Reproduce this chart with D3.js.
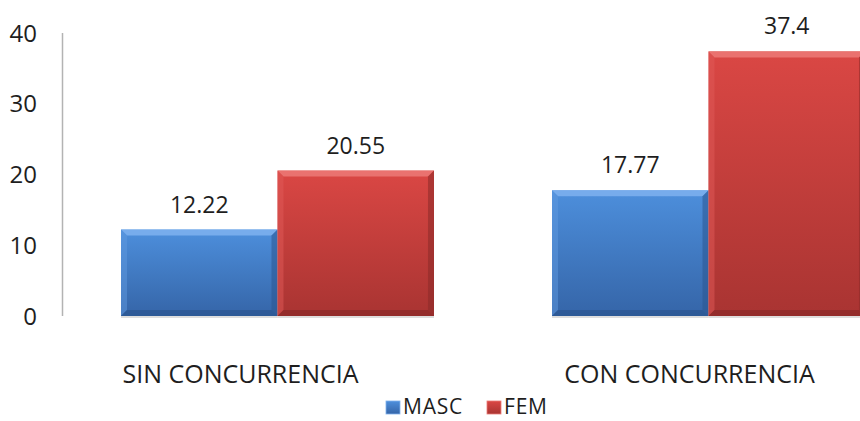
<!DOCTYPE html>
<html>
<head>
<meta charset="utf-8">
<script src="https://cdn.jsdelivr.net/npm/d3@7"></script>
<style>
  html, body { margin: 0; padding: 0; background: #fff; }
  svg { display: block; font-family: "Open Sans", "Noto Sans", sans-serif; }
</style>
</head>
<body>
<svg id="chart" width="860" height="421"></svg>
<script>
// Categories, series and values
const categories = ["SIN CONCURRENCIA", "CON CONCURRENCIA"];
const seriesNames = ["MASC", "FEM"];
const masc = [12.22, 17.77];
const fem = [20.55, 37.4];
const valueLabels = [["12.22", "20.55"], ["17.77", "37.4"]];
const yTicks = [0, 10, 20, 30, 40];

const seriesValues = [masc, fem];
const palette = {
  MASC: { top: "#4d8fdc", bottom: "#3565a8", light: "#7fb2ee", dark: "#2b5590", side: "#5f9ae0" },
  FEM:  { top: "#da4744", bottom: "#a93432", light: "#ec7a77", dark: "#8a2a28", side: "#e05a57" }
};
const textColor = "#1e1e1e";

const svg = d3.select("#chart");
const defs = svg.append("defs");
seriesNames.forEach(s => {
  const g = defs.append("linearGradient").attr("id", "grad-" + s)
    .attr("x1", 0).attr("y1", 0).attr("x2", 0).attr("y2", 1);
  g.append("stop").attr("offset", "0%").attr("stop-color", palette[s].top);
  g.append("stop").attr("offset", "100%").attr("stop-color", palette[s].bottom);
});

const x0 = d3.scaleBand().domain(categories).range([62, 924]).paddingInner(0).paddingOuter(0);
const x1 = d3.scaleBand().domain(seriesNames).range([0, x0.bandwidth()]).paddingInner(0).paddingOuter(0.377);
// category captions sit on their own band layout beneath the plot
const xLabel = d3.scaleBand().domain(categories).range([16, 914]);
const y = d3.scaleLinear().domain([0, 40]).range([316, 33]);

// Vertical axis line
svg.append("line")
  .attr("x1", 62.5).attr("x2", 62.5)
  .attr("y1", y(40)).attr("y2", y(0))
  .attr("stroke", "#b3b3b3").attr("stroke-width", 1.5);

// Tick labels
svg.append("g").selectAll("text").data(yTicks).join("text")
  .attr("x", 37).attr("y", d => y(d))
  .attr("dy", "0.36em")
  .attr("text-anchor", "end")
  .attr("font-size", 24).attr("fill", textColor)
  .text(d => d);

// Bars with bevelled edges
const bev = 6;
const rows = categories.map((c, i) => seriesNames.map((s, j) => ({
  cat: c, series: s, value: seriesValues[j][i], label: valueLabels[i][j]
})));

const groups = svg.append("g").selectAll("g").data(rows).join("g")
  .attr("transform", d => `translate(${x0(d[0].cat)},0)`);

groups.each(function(row) {
  const g = d3.select(this);
  row.forEach(d => {
    const bx = x1(d.series), bw = x1.bandwidth();
    const by = y(d.value), bh = y(0) - y(d.value);
    const p = palette[d.series];
    const bar = g.append("g");
    // soft shadow below the bar
    bar.append("rect").attr("x", bx).attr("y", y(0)).attr("width", bw).attr("height", 2)
      .attr("fill", "#c8c8c8").attr("opacity", 0.6);
    bar.append("rect").attr("x", bx).attr("y", by).attr("width", bw).attr("height", bh)
      .attr("fill", `url(#grad-${d.series})`);
    // top bevel
    bar.append("polygon")
      .attr("points", [[bx, by], [bx + bw, by], [bx + bw - bev, by + bev], [bx + bev, by + bev]].join(" "))
      .attr("fill", p.light).attr("opacity", 0.85);
    // left bevel
    bar.append("polygon")
      .attr("points", [[bx, by], [bx + bev, by + bev], [bx + bev, by + bh - bev], [bx, by + bh]].join(" "))
      .attr("fill", p.side).attr("opacity", 0.5);
    // right bevel
    bar.append("polygon")
      .attr("points", [[bx + bw, by], [bx + bw, by + bh], [bx + bw - bev, by + bh - bev], [bx + bw - bev, by + bev]].join(" "))
      .attr("fill", p.dark).attr("opacity", 0.55);
    // bottom bevel
    bar.append("polygon")
      .attr("points", [[bx, by + bh], [bx + bw, by + bh], [bx + bw - bev, by + bh - bev], [bx + bev, by + bh - bev]].join(" "))
      .attr("fill", p.dark).attr("opacity", 0.7);
    // value label
    g.append("text")
      .attr("x", bx + bw / 2).attr("y", by - 17)
      .attr("text-anchor", "middle")
      .attr("font-size", 23).attr("fill", textColor)
      .text(d.label);
  });
});

// Category labels
svg.append("g").selectAll("text").data(categories).join("text")
  .attr("x", d => xLabel(d) + xLabel.bandwidth() / 2)
  .attr("y", 383)
  .attr("text-anchor", "middle")
  .attr("font-size", 25).attr("fill", textColor)
  .text(d => d);

// Legend
const legend = svg.append("g");
const legendItems = [{ name: "MASC", x: 386 }, { name: "FEM", x: 487 }];
legendItems.forEach(it => {
  const p = palette[it.name];
  legend.append("rect").attr("x", it.x).attr("y", 401).attr("width", 14).attr("height", 13)
    .attr("fill", `url(#grad-${it.name})`).attr("stroke", p.light).attr("stroke-width", 0.8);
  legend.append("text").attr("x", it.x + 17).attr("y", 414)
    .attr("font-size", 21).attr("letter-spacing", 0.8).attr("fill", textColor)
    .text(it.name);
});
</script>
</body>
</html>
